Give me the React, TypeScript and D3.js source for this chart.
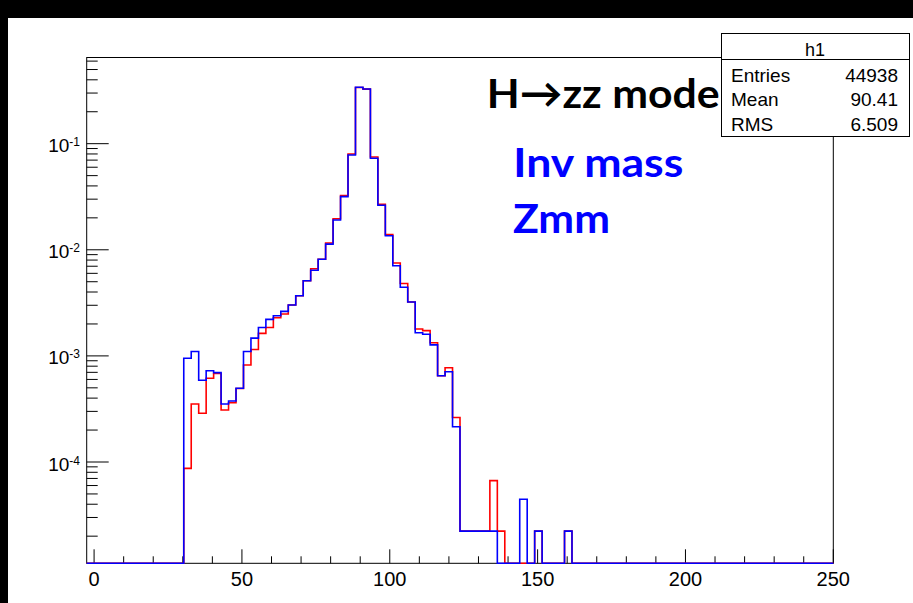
import React from "react";
import * as d3 from "d3";

// Histogram definition (100 bins from -2.5 to 250)
const histLow = -2.5;
const histHigh = 250;
const nBins = 100;
const firstBin = 13;

// Normalised bin contents starting at bin 13
const blueValues = [
  9.5e-4, 1.1e-3, 5.9e-4, 7.25e-4, 6.95e-4, 3.52e-4, 3.76e-4, 4.95e-4, 1.1e-3, 1.47e-3,
  1.85e-3, 2.21e-3, 2.39e-3, 2.63e-3, 3.02e-3, 3.69e-3, 5.11e-3, 6.41e-3, 8.15e-3, 1.13e-2,
  1.91e-2, 3.17e-2, 7.83e-2, 0.34, 0.328, 7.29e-2, 2.63e-2, 1.355e-2, 7.08e-3, 4.43e-3,
  3.22e-3, 1.65e-3, 1.6e-3, 1.27e-3, 6.51e-4, 7.1e-4, 2.15e-4, 2.23e-5, 2.23e-5, 2.23e-5,
  2.23e-5, 2.23e-5, 0, 0, 0, 4.45e-5, 0, 2.23e-5, 0, 0,
  0, 2.23e-5,
];
const redValues = [
  8.7e-5, 3.52e-4, 2.88e-4, 6.15e-4, 6.83e-4, 3.09e-4, 3.62e-4, 4.93e-4, 8.21e-4, 1.15e-3,
  1.63e-3, 1.85e-3, 2.29e-3, 2.48e-3, 3.02e-3, 3.69e-3, 5.11e-3, 6.62e-3, 8.15e-3, 1.16e-2,
  1.96e-2, 3.24e-2, 8.0e-2, 0.338, 0.327, 7.49e-2, 2.69e-2, 1.39e-2, 7.51e-3, 4.81e-3,
  3.22e-3, 1.79e-3, 1.73e-3, 1.33e-3, 6.51e-4, 7.74e-4, 2.63e-4, 2.23e-5, 2.23e-5, 2.23e-5,
  2.23e-5, 6.68e-5, 2.23e-5, 0, 0, 0, 0, 2.23e-5, 0, 0,
  0, 2.23e-5,
];

const xTickMajor = [0, 50, 100, 150, 200, 250];
const yDecades = [-5, -4, -3, -2, -1];
const yLabelDecades = [-4, -3, -2, -1];
const yDomain = [1.11e-5, 0.649];

const statsTitle = "h1";
const statsNames = ["Entries", "Mean", "RMS"];
const statsValues = ["44938", "90.41", "6.509"];

const titleText = "H\u2192zz mode";
const blueNotes = ["Inv mass", "Zmm"];

const W = 913;
const H = 603;
const frame = { left: 86.7, right: 833.3, top: 57.5, bottom: 563.3 };

export default function App() {
  const x = d3.scaleLinear().domain([histLow, histHigh]).range([frame.left, frame.right]);
  const y = d3.scaleLog().domain(yDomain).range([frame.bottom, frame.top]);
  const bw = (histHigh - histLow) / nBins;

  const stepPath = (vals: number[]) => {
    const startLo = histLow + firstBin * bw;
    const endHi = histLow + (firstBin + vals.length) * bw;
    const pts: [number, number][] = [
      [x(histLow), frame.bottom],
      [x(startLo), frame.bottom],
    ];
    vals.forEach((v, i) => {
      const lo = histLow + (firstBin + i) * bw;
      const hi = lo + bw;
      const yy = v > 0 ? Math.max(frame.top, Math.min(frame.bottom, y(v))) : frame.bottom;
      pts.push([x(lo), yy]);
      pts.push([x(hi), yy]);
    });
    pts.push([x(endHi), frame.bottom]);
    pts.push([x(histHigh), frame.bottom]);
    return d3.line()(pts) as string;
  };

  const yTicks: { v: number; major: boolean }[] = [];
  yDecades.forEach((d) => {
    for (let m = 1; m <= 9; m++) {
      const v = m * Math.pow(10, d);
      if (v >= yDomain[0] && v <= yDomain[1]) yTicks.push({ v, major: m === 1 });
    }
  });
  const xMinor = d3.range(0, 251, 10);

  const font = "'Liberation Sans', Arial, Helvetica, sans-serif";
  const noteFont = "Lato, 'Open Sans', sans-serif";

  return (
    <svg width={W} height={H} style={{ position: "absolute", left: 0, top: 0 }}>
      <rect x={0} y={0} width={W} height={H} fill="#000" />
      <rect x={8} y={18} width={W - 8} height={H - 18} fill="#fff" />

      {/* frame */}
      <rect
        x={frame.left}
        y={frame.top}
        width={frame.right - frame.left}
        height={frame.bottom - frame.top}
        fill="none"
        stroke="#000"
        strokeWidth={1}
      />

      {/* y ticks */}
      {yTicks.map((t, i) => (
        <line
          key={"yt" + i}
          x1={frame.left}
          x2={frame.left + (t.major ? 22 : 11)}
          y1={y(t.v)}
          y2={y(t.v)}
          stroke="#000"
          strokeWidth={1}
        />
      ))}
      {yLabelDecades.map((d) => (
        <text
          key={"yl" + d}
          x={80}
          y={y(Math.pow(10, d)) + 8.5}
          textAnchor="end"
          fontFamily={font}
          fontSize={19}
          fill="#000"
        >
          10
          <tspan dy={-6} fontSize={12}>
            {String(d)}
          </tspan>
        </text>
      ))}

      {/* x ticks */}
      {xMinor.map((v) => (
        <line
          key={"xt" + v}
          x1={x(v)}
          x2={x(v)}
          y1={frame.bottom}
          y2={frame.bottom - (v % 50 === 0 ? 14 : 7)}
          stroke="#000"
          strokeWidth={1}
        />
      ))}
      {xTickMajor.map((v) => (
        <text
          key={"xl" + v}
          x={x(v)}
          y={586}
          textAnchor="middle"
          fontFamily={font}
          fontSize={20}
          fill="#000"
        >
          {v}
        </text>
      ))}

      {/* histograms */}
      <path d={stepPath(redValues)} fill="none" stroke="#ff0000" strokeWidth={1.6} />
      <path d={stepPath(blueValues)} fill="none" stroke="#0000ff" strokeWidth={1.6} />

      {/* stats box */}
      <rect x={721.5} y={33.5} width={188} height={103} fill="#fff" stroke="#000" strokeWidth={1} />
      <line x1={721.5} x2={909.5} y1={59.5} y2={59.5} stroke="#000" strokeWidth={1} />
      <text x={815} y={56} textAnchor="middle" fontFamily={font} fontSize={18} fill="#000">
        {statsTitle}
      </text>
      {statsNames.map((n, i) => (
        <g key={n}>
          <text x={731} y={81.7 + i * 24.7} fontFamily={font} fontSize={19} fill="#000">
            {n}
          </text>
          <text x={898} y={81.7 + i * 24.7} textAnchor="end" fontFamily={font} fontSize={19} fill="#000">
            {statsValues[i]}
          </text>
        </g>
      ))}

      {/* annotations */}
      <text
        x={486.7}
        y={108.3}
        fontFamily={noteFont}
        fontWeight="bold"
        fontSize={41}
        fill="#000"
        textLength={233}
        lengthAdjust="spacingAndGlyphs"
      >
        {titleText}
      </text>
      <text
        x={513.3}
        y={176.7}
        fontFamily={noteFont}
        fontWeight="bold"
        fontSize={41}
        fill="#0000ff"
        textLength={170}
        lengthAdjust="spacingAndGlyphs"
      >
        {blueNotes[0]}
      </text>
      <text
        x={513}
        y={233.3}
        fontFamily={noteFont}
        fontWeight="bold"
        fontSize={41}
        fill="#0000ff"
        textLength={97}
        lengthAdjust="spacingAndGlyphs"
      >
        {blueNotes[1]}
      </text>
    </svg>
  );
}
